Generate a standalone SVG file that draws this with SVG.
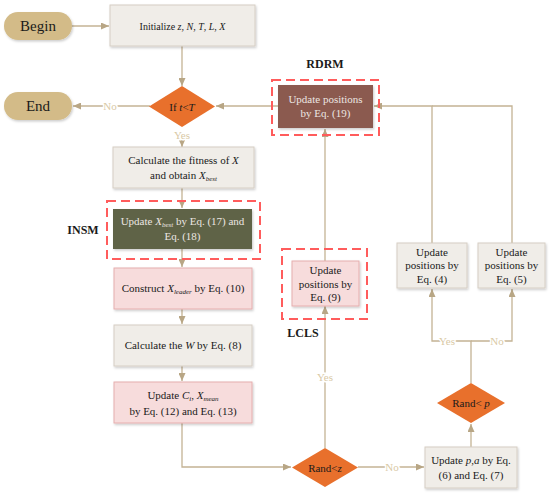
<svg xmlns="http://www.w3.org/2000/svg" width="550" height="495" viewBox="0 0 550 495">
<defs>
<style>
text{font-family:"Liberation Serif","Times New Roman",serif;fill:#1a1a1a;text-anchor:middle}
.t{font-size:11px}
.big{font-size:15px}
.lbl{font-size:12px;font-weight:bold}
.lt{fill:#ece6e2}
.yn{font-size:11px;fill:#d9c9a6;stroke:#fff;stroke-width:3px;paint-order:stroke}
.i{font-style:italic}
.gray{fill:#f0ede8;stroke:#d6cec4;stroke-width:1}
.pink{fill:#f7dcdc;stroke:#e6aeae;stroke-width:1}
.pill{fill:#d3bb88}
.dia{fill:#e8702c}
.dash{fill:none;stroke:#ff5c5c;stroke-width:2;stroke-dasharray:9,5}
.c{fill:none;stroke:#c4b394;stroke-width:1.3}
.c.a{marker-end:url(#ah)}
</style>
<marker id="ah" markerUnits="userSpaceOnUse" markerWidth="8" markerHeight="7" refX="8" refY="3.5" orient="auto">
<path d="M0,0 L8,3.5 L0,7 z" fill="#b8a685"/>
</marker>
<filter id="sh" x="-10%" y="-10%" width="130%" height="140%">
<feDropShadow dx="1" dy="1.5" stdDeviation="1" flood-color="#000" flood-opacity="0.2"/>
</filter>
</defs>
<rect width="550" height="495" fill="#fff"/>

<g id="connectors">
<path class="c a" d="M72,26 H109"/>
<path class="c a" d="M182,46 V86"/>
<path class="c a" d="M278,106 H216"/>
<path class="c a" d="M150,106 H73"/>
<path class="c a" d="M182,140 V147"/>
<path class="c a" d="M182,188 V208"/>
<path class="c a" d="M182,249 V267"/>
<path class="c a" d="M182,309 V324"/>
<path class="c a" d="M182,366 V381"/>
<path class="c a" d="M182,423 V467 H291"/>
<path class="c a" d="M358,467 H424"/>
<path class="c a" d="M325,448 V306"/>
<path class="c a" d="M325,261 V129"/>
<path class="c a" d="M471,447 V424"/>
<path class="c a" d="M471,383 V341 H432 V289"/>
<path class="c a" d="M471,341 H512 V289"/>
<path class="c a" d="M432,243 V106 H374"/>
<path class="c" d="M512,243 V106 H432"/>
<text class="yn" x="110" y="110">No</text>
<text class="yn" x="182" y="139">Yes</text>
<text class="yn" x="392" y="471">No</text>
<text class="yn" x="325" y="381">Yes</text>
<text class="yn" x="447" y="345">Yes</text>
<text class="yn" x="497" y="345">No</text>
</g>

<g id="begin">
<rect class="pill" x="4" y="12" width="68" height="28" rx="14" filter="url(#sh)"/>
<text class="big" x="38" y="31">Begin</text>
</g>
<g id="end">
<rect class="pill" x="4" y="92" width="68" height="28" rx="14" filter="url(#sh)"/>
<text class="big" x="38" y="111">End</text>
</g>
<g id="init">
<rect class="gray" x="110" y="5" width="145" height="41" filter="url(#sh)"/>
<text class="t" x="182.5" y="29.5" style="font-size:10px">Initialize <tspan class="i">z</tspan>, <tspan class="i">N</tspan>, <tspan class="i">T</tspan>, <tspan class="i">L</tspan>, <tspan class="i">X</tspan></text>
</g>
<g id="cond-t">
<path class="dia" d="M182,86 L215,106.5 L182,127 L149,106.5 z"/>
<text class="t" x="182" y="110.5">If <tspan class="i">t</tspan>&lt;<tspan class="i">T</tspan></text>
</g>
<g id="fitness">
<rect class="gray" x="113" y="147" width="141" height="41" filter="url(#sh)"/>
<text class="t" x="183.5" y="164">Calculate the fitness of  <tspan class="i">X</tspan></text>
<text class="t" x="183.5" y="179">and obtain <tspan class="i">X</tspan><tspan class="i" font-size="7" dy="2">best</tspan></text>
</g>
<g id="insm">
<rect class="dash" x="107" y="201" width="153" height="58"/>
<rect x="113" y="209" width="139" height="40" fill="#5f6346" filter="url(#sh)"/>
<text class="t lt" x="182.5" y="225">Update <tspan class="i">X</tspan><tspan class="i" font-size="7" dy="2">best</tspan><tspan dy="-2"> by Eq. (17) and</tspan></text>
<text class="t lt" x="182.5" y="240">Eq. (18)</text>
<text class="lbl" x="83" y="234">INSM</text>
</g>
<g id="leader">
<rect class="pink" x="114" y="268" width="138" height="41" filter="url(#sh)"/>
<text class="t" x="183" y="292">Construct  <tspan class="i">X</tspan><tspan class="i" font-size="7" dy="2">leader</tspan><tspan dy="-2"> by Eq. (10)</tspan></text>
</g>
<g id="weight">
<rect class="gray" x="114" y="325" width="138" height="41" filter="url(#sh)"/>
<text class="t" x="183" y="349">Calculate the <tspan class="i">W</tspan> by Eq. (8)</text>
</g>
<g id="ci">
<rect class="pink" x="114" y="382" width="138" height="41" filter="url(#sh)"/>
<text class="t" x="183" y="399">Update <tspan class="i">C</tspan><tspan class="i" font-size="7" dy="2">i</tspan><tspan dy="-2">, </tspan><tspan class="i">X</tspan><tspan class="i" font-size="7" dy="2">mean</tspan></text>
<text class="t" x="183" y="415">by Eq. (12) and Eq. (13)</text>
</g>
<g id="cond-z">
<path class="dia" d="M325,448 L358,467.5 L325,487 L292,467.5 z"/>
<text class="t" x="325" y="471.5">Rand&lt;<tspan class="i">z</tspan></text>
</g>
<g id="pa">
<rect class="gray" x="425" y="447" width="92" height="41" filter="url(#sh)"/>
<text class="t" x="471" y="464">Update <tspan class="i">p</tspan>,<tspan class="i">a</tspan> by Eq.</text>
<text class="t" x="471" y="479">(6) and Eq. (7)</text>
</g>
<g id="cond-p">
<path class="dia" d="M471,383 L505,403 L471,423 L437,403 z"/>
<text class="t" x="471" y="407">Rand&lt; <tspan class="i">p</tspan></text>
</g>
<g id="eq4">
<rect class="gray" x="397" y="243" width="70" height="45" filter="url(#sh)"/>
<text class="t" x="432" y="256">Update</text>
<text class="t" x="432" y="269">positions by</text>
<text class="t" x="432" y="283">Eq. (4)</text>
</g>
<g id="eq5">
<rect class="gray" x="478" y="243" width="67" height="45" filter="url(#sh)"/>
<text class="t" x="511.5" y="256">Update</text>
<text class="t" x="511.5" y="269">positions by</text>
<text class="t" x="511.5" y="283">Eq. (5)</text>
</g>
<g id="lcls">
<rect class="dash" x="282" y="249" width="85" height="70"/>
<rect class="pink" x="292" y="261" width="67" height="45" filter="url(#sh)"/>
<text class="t" x="325.5" y="274">Update</text>
<text class="t" x="325.5" y="288">positions by</text>
<text class="t" x="325.5" y="301">Eq. (9)</text>
<text class="lbl" x="303" y="337">LCLS</text>
</g>
<g id="rdrm">
<rect class="dash" x="272" y="80" width="107" height="55"/>
<rect x="278" y="85" width="95" height="43" fill="#8b5a50" filter="url(#sh)"/>
<text class="t lt" x="325.5" y="103">Update positions</text>
<text class="t lt" x="325.5" y="117">by Eq. (19)</text>
<text class="lbl" x="325" y="68">RDRM</text>
</g>
</svg>
